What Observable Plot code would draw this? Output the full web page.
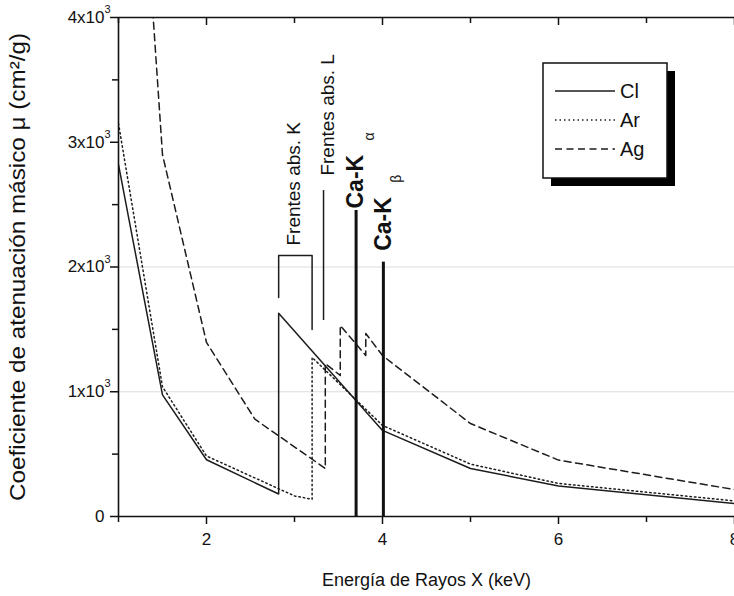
<!DOCTYPE html>
<html><head><meta charset="utf-8">
<script src="https://cdn.jsdelivr.net/npm/d3@7"></script>
<script src="https://cdn.jsdelivr.net/npm/@observablehq/plot@0.6"></script>
<style>
html,body{margin:0;padding:0;background:#fff;}
#chart{position:relative;width:734px;height:596px;overflow:hidden;}
</style></head><body><div id="chart"></div>
<script>
// ---- data ----
const seriesNames = ["Cl", "Ar", "Ag"];
const energyCl = [1, 1.5, 2, 2.82, 2.82, 4, 5, 6, 8];
const muCl     = [2820, 975, 455, 180, 1630, 690, 385, 245, 104];
const energyAr = [1, 1.5, 2, 3, 3.2, 3.2, 4, 5, 6, 8];
const muAr     = [3150, 1040, 485, 165, 138, 1275, 730, 420, 265, 125];
const energyAg = [1, 1.5, 2, 2.55, 3.35, 3.35, 3.52, 3.52, 3.81, 3.81, 4, 5, 6, 8];
const muAg     = [8100, 2900, 1395, 780, 385, 1226, 1130, 1531, 1291, 1467, 1290, 745, 452, 216];

const xMajorTicks = [2, 4, 6, 8];
const xMinorTicks = [1, 3, 5, 7];
const yMajorTicks = [0, 1000, 2000, 3000, 4000];
const yMinorTicks = [500, 1500, 2500, 3500];
const yTickBase = ["0", "1x10", "2x10", "3x10", "4x10"];
const yTickSup = ["", "3", "3", "3", "3"];
const gridY = [1000, 2000];

// absorption-edge annotations
const kBracketE  = [2.82, 2.82, 3.2, 3.2];
const kBracketMu = [1755, 2092, 2092, 1500];
const lEdgeE = 3.33, lEdgeMu1 = 1571, lEdgeMu2 = 2613;
const edgeLabels = ["Frentes abs. K", "Frentes abs. L"];
const edgeLabelE = [2.99, 3.38];
const edgeLabelMu = [2172, 2733];
// Ca emission lines
const caLineE = [3.70, 4.01];
const caLineTop = [2453, 2039];
const caLabelMu = [2469, 2130];
const caSub = ["α", "β"];

const xLabel = "Energía de Rayos X (keV)";
const yLabel = "Coeficiente de atenuación másico μ (cm²/g)";

// ---- build table ----
const rows = [];
[[energyCl, muCl, "Cl"], [energyAr, muAr, "Ar"], [energyAg, muAg, "Ag"]].forEach(([es, ms, s]) =>
  es.forEach((e, i) => rows.push({series: s, e, mu: ms[i]})));
const dash = {Cl: null, Ar: "1.5,3", Ag: "7,4.5"};
const ink = "#1c1c1c";

const lineMarks = seriesNames.map(s => Plot.line(rows.filter(r => r.series === s), {
  x: "e", y: "mu", stroke: ink, strokeWidth: 1.5, strokeDasharray: dash[s], clip: true
}));

const plot = Plot.plot({
  width: 734, height: 596,
  marginLeft: 118, marginRight: 0, marginTop: 17, marginBottom: 80,
  x: {domain: [1, 8]},
  y: {domain: [0, 4000]},
  style: {fontFamily: "'Liberation Sans', Arial, sans-serif", fontSize: "18px", color: "#111", background: "white"},
  marks: [
    Plot.ruleY(gridY, {stroke: "#dcdcdc", strokeWidth: 1}),
    ...lineMarks,
    // K bracket and L edge marker
    Plot.line(kBracketE.map((e, i) => ({e, mu: kBracketMu[i]})), {x: "e", y: "mu", stroke: ink, strokeWidth: 1.5}),
    Plot.ruleX([lEdgeE], {x: d => d, y1: lEdgeMu1, y2: lEdgeMu2, stroke: ink, strokeWidth: 1.5}),
    Plot.text(edgeLabels, {x: (d, i) => edgeLabelE[i], y: (d, i) => edgeLabelMu[i], text: d => d,
      rotate: -90, textAnchor: "start", fontSize: 19, fill: "#111"}),
    // Ca lines
    Plot.ruleX(caLineE, {x: d => d, y1: 0, y2: (d, i) => caLineTop[i], stroke: "#111", strokeWidth: 3}),
    Plot.text(caLineE, {x: d => d, y: (d, i) => caLabelMu[i], text: () => "Ca-K",
      rotate: -90, textAnchor: "start", fontSize: 23, fontWeight: "bold", fill: "#111"}),
    Plot.text(caLineE, {x: d => d, y: (d, i) => caLabelMu[i], text: (d, i) => caSub[i],
      rotate: -90, textAnchor: "start", fontSize: 14, dx: 13, dy: -68, fill: "#111"}),
    // frame
    Plot.ruleY([4000], {stroke: "#111", strokeWidth: 1.6}),
    Plot.ruleY([0], {stroke: "#111", strokeWidth: 1.6}),
    Plot.ruleX([1], {stroke: "#111", strokeWidth: 1.6}),
    // top inward ticks
    Plot.ruleX(xMajorTicks, {x: d => d, insetBottom: 491, stroke: "#111", strokeWidth: 1.5}),
    Plot.ruleX(xMinorTicks, {x: d => d, insetBottom: 493, stroke: "#111", strokeWidth: 1.5}),
    // bottom axis
    Plot.axisX({ticks: xMajorTicks, tickSize: 8, tickPadding: 8, tickFormat: d => String(d), label: null,
      strokeWidth: 1.5, fontSize: 17}),
    Plot.axisX({ticks: xMinorTicks, tickSize: 6, tickFormat: () => "", label: null, strokeWidth: 1.5}),
    // left axis
    Plot.axisY({ticks: yMajorTicks, tickSize: 8, tickFormat: () => "", label: null, strokeWidth: 1.5}),
    Plot.axisY({ticks: yMinorTicks, tickSize: 6, tickFormat: () => "", label: null, strokeWidth: 1.5}),
    Plot.text(yMajorTicks, {frameAnchor: "left", y: d => d, text: (d, i) => yTickBase[i],
      textAnchor: "end", dx: -14, fontSize: 17, fill: "#111"}),
    Plot.text(yMajorTicks, {frameAnchor: "left", y: d => d, text: (d, i) => yTickSup[i],
      textAnchor: "start", dx: -14, dy: -8, fontSize: 11, fill: "#111"}),
    // axis titles
    Plot.text([xLabel], {frameAnchor: "bottom", text: d => d, dy: 64, textAnchor: "middle", lineAnchor: "middle",
      fontSize: 18, fill: "#111"}),
    Plot.text([yLabel], {frameAnchor: "left", text: d => d, rotate: -90, dx: -101, textAnchor: "middle",
      lineAnchor: "middle", fontSize: 22, fill: "#111"})
  ]
});

// stretch the rotated y title along its length as in the (scanned) reference
d3.select(plot).selectAll("text").filter(function() { return this.textContent === yLabel; })
  .attr("textLength", 468).attr("lengthAdjust", "spacingAndGlyphs");

// ---- legend box with drop shadow ----
const svg = d3.select(plot);
const lg = svg.append("g").attr("font-family", "'Liberation Sans', Arial, sans-serif").attr("text-anchor", "start");
const bx = 543, by = 63, bw = 124, bh = 115;
lg.append("rect").attr("x", bx + 8).attr("y", by + 8).attr("width", bw).attr("height", bh).attr("fill", "#000");
lg.append("rect").attr("x", bx).attr("y", by).attr("width", bw).attr("height", bh)
  .attr("fill", "#fff").attr("stroke", "#111").attr("stroke-width", 1.5);
seriesNames.forEach((s, i) => {
  const yy = by + 28 + i * 29;
  lg.append("line").attr("x1", bx + 12).attr("x2", bx + 72).attr("y1", yy).attr("y2", yy)
    .attr("stroke", ink).attr("stroke-width", 1.5).attr("stroke-dasharray", dash[s]);
  lg.append("text").attr("x", bx + 77).attr("y", yy).attr("dy", "0.36em")
    .attr("font-size", 20).attr("fill", "#111").text(s);
});

document.getElementById("chart").appendChild(plot);
</script></body></html>
